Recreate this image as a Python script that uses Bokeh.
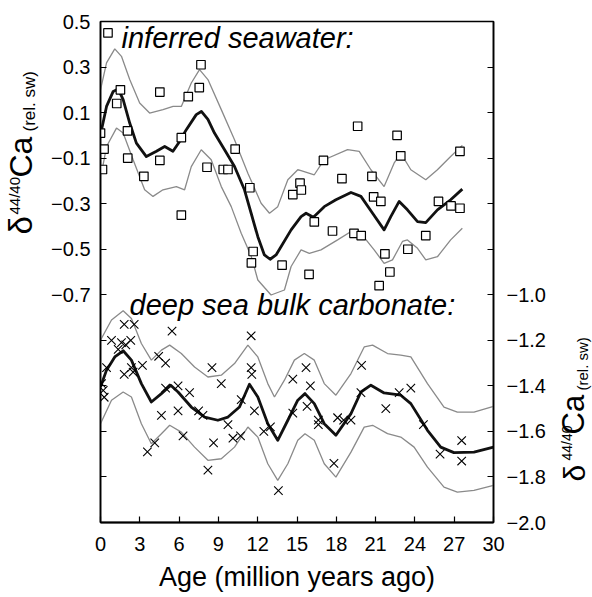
from math import pi
from bokeh.plotting import figure
from bokeh.layouts import row
from bokeh.models import Range1d, LinearAxis, FixedTicker, CustomJSTickFormatter, Label
from bokeh.embed import file_html
from bokeh.resources import INLINE

# ---------------- data ----------------
# inferred seawater (left axis, per mil rel. sw)
sw_age = [0.0, 0.15, 0.27, 0.57, 1.24, 1.52, 2.06, 2.08, 3.31, 4.53, 4.53, 6.17, 6.17, 6.70, 7.54,
          7.67, 8.13, 9.37, 9.73, 10.28, 11.40, 11.65, 11.52, 13.86, 14.68, 15.23, 15.33, 15.92, 16.32, 17.02,
          17.71, 18.43, 19.35, 19.90, 19.63, 20.72, 20.85, 21.40, 21.71, 22.09, 21.27, 22.64, 22.92, 23.46, 24.83,
          25.80, 26.76, 27.44, 27.44]
sw_d = [0.01, -0.15, -0.06, 0.45, 0.14, 0.20, 0.02, -0.10, -0.18, 0.19, -0.11, -0.01, -0.35, 0.17, 0.21,
        0.31, -0.14, -0.15, -0.15, -0.06, -0.23, -0.51, -0.56, -0.57, -0.26, -0.21, -0.24, -0.61, -0.38, -0.11,
        -0.42, -0.19, -0.43, -0.44, 0.04, -0.18, -0.27, -0.29, -0.52, -0.60, -0.66, 0.00, -0.09, -0.50, -0.44,
        -0.29, -0.31, -0.07, -0.32]

sw_fit_age = [0.08, 0.46, 0.97, 1.35, 1.73, 2.23, 2.74, 3.5, 4.27, 4.9, 5.53, 6.0, 6.55, 7.31, 7.7, 8.2,
              8.7, 9.47, 10.23, 10.99, 11.5, 12.01, 12.51, 12.95, 13.4, 13.79, 14.55, 15.31, 15.69, 16.25,
              17.08, 17.97, 19.12, 19.88, 20.77, 21.65, 22.16, 22.8, 23.43, 24.2, 24.83, 25.72, 26.73, 27.62]
sw_fit_d = [0.025, 0.127, 0.193, 0.204, 0.157, 0.054, -0.034, -0.093, -0.07, -0.049, -0.07, -0.03, 0.025,
            0.091, 0.105, 0.07, 0.01, -0.063, -0.137, -0.239, -0.342, -0.445, -0.525, -0.544, -0.525,
            -0.488, -0.415, -0.357, -0.342, -0.36, -0.313, -0.283, -0.251, -0.268, -0.342, -0.415, -0.357,
            -0.29, -0.327, -0.379, -0.383, -0.327, -0.283, -0.236]

sw_up_age = [0.0, 0.46, 1.09, 1.6, 2.23, 2.99, 3.75, 4.77, 5.54, 6.17, 6.93, 7.56, 8.2, 9.22, 10.23,
             11.25, 12.26, 12.9, 13.53, 14.3, 15.06, 15.31, 16.32, 17.08, 18.86, 19.75, 20.64, 21.65, 22.41,
             22.92, 23.69, 24.83, 25.72, 26.73, 27.62]
sw_up_d = [0.2, 0.318, 0.38, 0.347, 0.245, 0.142, 0.098, 0.113, 0.127, 0.127, 0.23, 0.289, 0.245, 0.113,
           -0.019, -0.166, -0.298, -0.342, -0.313, -0.195, -0.151, -0.155, -0.173, -0.107, -0.063, -0.07,
           -0.151, -0.225, -0.122, -0.078, -0.151, -0.195, -0.151, -0.093, -0.044]

sw_lo_age = [0.08, 0.46, 1.22, 1.73, 2.49, 3.37, 4.01, 4.77, 5.79, 6.42, 6.93, 7.69, 8.45, 9.22, 9.98,
             10.74, 11.5, 12.01, 13.02, 14.04, 14.55, 15.31, 15.94, 16.83, 18.1, 19.25, 19.88, 20.89, 21.65,
             22.29, 23.05, 23.43, 24.2, 24.83, 25.72, 26.73, 27.62]
sw_lo_d = [-0.166, -0.049, 0.032, 0.01, -0.107, -0.239, -0.268, -0.239, -0.225, -0.239, -0.137, -0.063,
           -0.107, -0.225, -0.313, -0.43, -0.53, -0.635, -0.701, -0.679, -0.576, -0.503, -0.518, -0.503,
           -0.459, -0.418, -0.43, -0.503, -0.562, -0.547, -0.466, -0.459, -0.496, -0.547, -0.533, -0.459,
           -0.408]

# deep sea bulk carbonate (right axis, per mil rel. sw)
cb_age = [0.08, 0.21, 0.28, 0.46, 0.84, 1.35, 1.6, 1.81, 1.81, 1.93, 2.31, 2.36, 2.49, 2.57, 3.2, 3.58,
          4.14, 4.44, 4.65, 4.97, 4.97, 5.46, 5.92, 5.92, 6.3, 6.8, 7.49, 7.82, 8.2, 8.51, 8.63, 9.22, 9.73,
          10.11, 10.69, 10.74, 11.5, 11.5, 11.55, 11.75, 12.47, 12.97, 13.58, 14.68, 14.68, 15.69, 15.77,
          16.02, 16.63, 16.63, 17.82, 18.1, 18.56, 19.12, 19.93, 19.88, 21.78, 22.8, 23.69, 24.65, 25.92,
          27.57, 27.57]
cb_d = [-1.39, -1.42, -1.45, -1.32, -1.20, -1.24, -1.21, -1.13, -1.35, -1.22, -1.20, -1.32, -1.34, -1.13,
        -1.31, -1.69, -1.65, -1.27, -1.53, -1.30, -1.41, -1.16, -1.40, -1.51, -1.62, -1.43, -1.51, -1.53,
        -1.77, -1.32, -1.65, -1.39, -1.57, -1.63, -1.62, -1.46, -1.18, -1.32, -1.35, -1.51, -1.60, -1.58,
        -1.86, -1.37, -1.52, -1.32, -1.49, -1.40, -1.55, -1.57, -1.74, -1.54, -1.55, -1.55, -1.31, -1.43,
        -1.50, -1.43, -1.41, -1.57, -1.70, -1.64, -1.73]

cb_fit_age = [0.0, 0.46, 1.09, 1.73, 2.36, 3.12, 3.88, 4.65, 5.36, 5.92, 6.93, 7.95, 8.96, 9.73, 10.61,
              11.37, 12.01, 12.77, 13.53, 14.3, 15.06, 15.61, 16.32, 17.08, 17.97, 19.12, 19.88, 20.64,
              21.65, 22.92, 23.69, 24.96, 25.97, 26.98, 28.51, 30.0]
cb_fit_d = [-1.405, -1.331, -1.273, -1.246, -1.287, -1.39, -1.471, -1.434, -1.397, -1.427, -1.493, -1.537,
            -1.551, -1.537, -1.493, -1.393, -1.449, -1.566, -1.639, -1.551, -1.463, -1.434, -1.478, -1.566,
            -1.617, -1.522, -1.427, -1.397, -1.431, -1.441, -1.478, -1.595, -1.669, -1.693, -1.691, -1.669]

cb_up_age = [0.0, 0.84, 1.73, 2.36, 3.12, 3.88, 4.65, 5.28, 6.17, 7.18, 8.2, 9.22, 10.23, 11.25, 12.01,
             12.77, 13.28, 14.04, 14.8, 15.56, 16.32, 17.08, 17.97, 19.12, 20.13, 20.77, 21.91, 22.92, 23.69,
             24.96, 26.22, 27.24, 28.51, 30.0]
cb_up_d = [-1.199, -1.111, -1.07, -1.104, -1.214, -1.287, -1.243, -1.221, -1.258, -1.317, -1.361, -1.353,
           -1.302, -1.221, -1.273, -1.39, -1.449, -1.375, -1.287, -1.258, -1.287, -1.39, -1.441, -1.346,
           -1.229, -1.221, -1.258, -1.265, -1.273, -1.39, -1.493, -1.515, -1.515, -1.49]

cb_lo_age = [0.0, 0.84, 1.73, 2.36, 3.12, 3.88, 4.65, 5.28, 6.17, 7.18, 8.2, 9.22, 10.23, 11.25, 12.01,
             12.77, 13.53, 14.3, 15.06, 15.61, 16.32, 17.08, 17.97, 19.12, 20.13, 20.77, 21.91, 22.92, 23.94,
             24.96, 26.22, 27.24, 28.51, 30.0]
cb_lo_d = [-1.566, -1.463, -1.427, -1.449, -1.566, -1.654, -1.61, -1.573, -1.603, -1.669, -1.727, -1.72,
           -1.669, -1.581, -1.625, -1.742, -1.815, -1.742, -1.639, -1.61, -1.639, -1.742, -1.801, -1.691,
           -1.581, -1.573, -1.61, -1.625, -1.669, -1.757, -1.845, -1.867, -1.859, -1.837]

x_ticks = [0, 3, 6, 9, 12, 15, 18, 21, 24, 27, 30]
left_ticks = [0.5, 0.3, 0.1, -0.1, -0.3, -0.5, -0.7, -0.9, -1.1, -1.3, -1.5]
right_ticks = [0.0, -0.2, -0.4, -0.6, -0.8, -1.0, -1.2, -1.4, -1.6, -1.8, -2.0]

label_sw = "inferred seawater:"
label_cb = "deep sea bulk carbonate:"
x_title = "Age (million years ago)"
y_title_parts = ["\u03b4", "44/40", "Ca", "(rel. sw)"]

FONT = "Liberation Sans"
DESC = 0.21                         # font descent as a fraction of the font size
H = 597
LW, PW, RW = 48, 502, 42          # widths: left title strip, main plot, right title strip
FL, FR, FT, FB = 99, 493, 21, 522  # frame edges in page pixels

# ---------------- main figure ----------------
p = figure(width=PW, height=H, output_backend="svg", toolbar_location=None, title=None,
           x_range=Range1d(0, 30), y_range=Range1d(-1.7, 0.5),
           min_border_left=FL - LW, min_border_right=LW + PW - FR,
           min_border_top=FT, min_border_bottom=H - FB)
p.extra_y_ranges = {"cb": Range1d(-2.0, 0.2)}
p.grid.visible = False
p.outline_line_color = "black"
p.outline_line_width = 1.5
p.background_fill_color = "white"
p.border_fill_color = "white"

raxis = LinearAxis(y_range_name="cb")
p.add_layout(raxis, "right")

for ax in [p.xaxis[0], p.yaxis[0], raxis]:
    ax.axis_line_color = "black"
    ax.axis_line_width = 1.6
    ax.major_tick_line_color = "black"
    ax.major_tick_line_width = 1.2
    ax.major_tick_in = 6
    ax.major_tick_out = 0
    ax.minor_tick_line_color = None
    ax.major_label_text_font = FONT
    ax.major_label_text_font_size = "20px"
    ax.major_label_text_color = "black"

p.yaxis[0].axis_label = None
raxis.axis_label = None

xa = p.xaxis[0]
xa.ticker = FixedTicker(ticks=x_ticks)
xa.major_label_standoff = 14
xa.axis_line_width = 2
xa.axis_label = x_title
xa.axis_label_text_font = FONT
xa.axis_label_text_font_size = "27px"
xa.axis_label_text_font_style = "normal"
xa.axis_label_text_color = "black"
xa.axis_label_standoff = 8

p.yaxis[0].ticker = FixedTicker(ticks=left_ticks)
p.yaxis[0].major_label_standoff = 10
p.yaxis[0].formatter = CustomJSTickFormatter(
    code="return tick > -0.8 ? tick.toFixed(1).replace('-', '\u2212') : '';")
raxis.ticker = FixedTicker(ticks=right_ticks)
raxis.major_label_standoff = 13
raxis.formatter = CustomJSTickFormatter(
    code="return tick < -0.9 ? tick.toFixed(1).replace('-', '\u2212') : '';")

BAND = "#8a8a8a"
MEAN = "#111111"

p.line(sw_up_age, sw_up_d, line_color=BAND, line_width=1.3)
p.line(sw_lo_age, sw_lo_d, line_color=BAND, line_width=1.3)
p.line(cb_up_age, cb_up_d, line_color=BAND, line_width=1.3, y_range_name="cb")
p.line(cb_lo_age, cb_lo_d, line_color=BAND, line_width=1.3, y_range_name="cb")
p.line(sw_fit_age, sw_fit_d, line_color=MEAN, line_width=2.8, line_join="round")
p.line(cb_fit_age, cb_fit_d, line_color=MEAN, line_width=2.8, line_join="round", y_range_name="cb")

p.scatter(sw_age, sw_d, marker="square", size=8.5, fill_color="white",
          line_color="black", line_width=1.2)
p.scatter(cb_age, cb_d, marker="x", size=12, line_color="black", line_width=1.1,
          y_range_name="cb")

# in-plot labels (screen units relative to the frame, y upwards from frame bottom)
for txt, cx, cy in [(label_sw, 120, 47), (label_cb, 128, 314)]:
    p.add_layout(Label(x=cx - FL, y=FB - (cy + DESC * 29), x_units="screen", y_units="screen",
                       text=txt, text_font=FONT, text_font_size="29px", text_font_style="italic",
                       anchor="bottom_left", text_color="black"))


def strip(width):
    f = figure(width=width, height=H, output_backend="svg", toolbar_location=None, title=None,
               x_range=Range1d(0, width), y_range=Range1d(0, H),
               x_axis_location=None, y_axis_location=None,
               min_border=0, min_border_left=0, min_border_right=0,
               min_border_top=0, min_border_bottom=0)
    f.grid.visible = False
    f.outline_line_color = None
    f.background_fill_color = "white"
    f.border_fill_color = "white"
    return f


def ytitle(fig, x0, parts):
    """parts: (text, canvas x of baseline, canvas y where the text starts, font px)"""
    for txt, cx, cy, size in parts:
        fig.add_layout(Label(x=cx + DESC * size - x0, y=cy, x_units="canvas", y_units="canvas",
                             text=txt, angle=pi / 2, text_font=FONT, text_font_size=f"{size}px",
                             anchor="bottom_left", text_color="black"))


left = strip(LW)
right = strip(RW)

t = y_title_parts
ytitle(left, 0, [(t[0], 32, 234, 33), (t[1], 19, 214, 15), (t[2], 32, 177, 32), (t[3], 35, 131, 17)])
ytitle(right, LW + PW, [(t[0], 584, 481, 30), (t[1], 572, 460, 14), (t[2], 584, 434, 31),
                        (t[3], 587, 390, 15)])

layout = row(left, p, right, spacing=0)
open("out.html", "w").write(file_html(layout, INLINE))
